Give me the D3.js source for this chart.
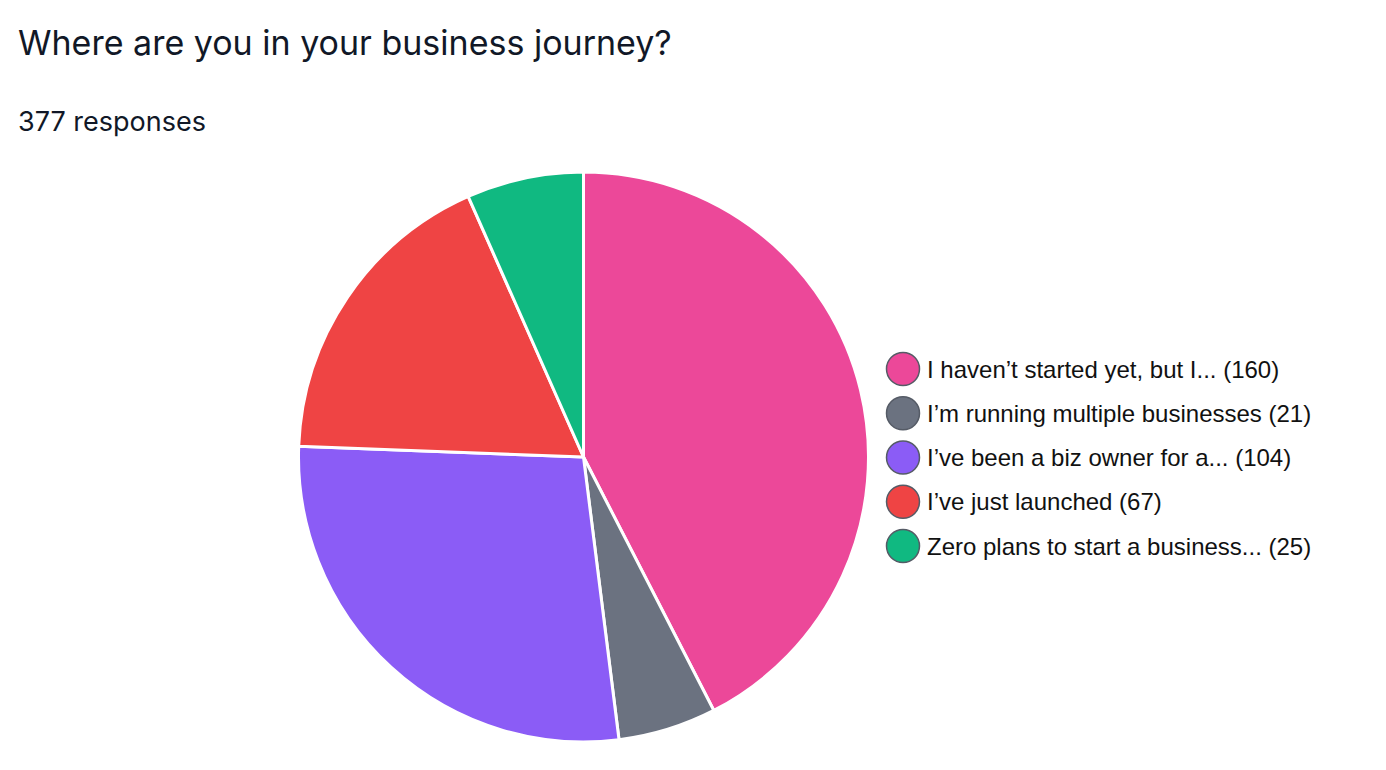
<!DOCTYPE html>
<html><head><meta charset="utf-8">
<script src="https://cdn.jsdelivr.net/npm/d3@7/dist/d3.min.js"></script>
<style>body{margin:0;background:#fff;} svg{display:block;}</style>
</head><body>
<svg id="chart" width="1386" height="770"></svg>
<script>
const title = "Where are you in your business journey?";
const subtitle = "377 responses";
const categories = [
  "I haven’t started yet, but I...",
  "I’m running multiple businesses",
  "I’ve been a biz owner for a...",
  "I’ve just launched",
  "Zero plans to start a business..."
];
const values = [160, 21, 104, 67, 25];
const colors = ["#ec4899", "#6b7280", "#8b5cf6", "#ef4444", "#10b981"];

const svg = d3.select("#chart");
svg.append("text").attr("x", 18).attr("y", 55)
  .attr("font-family", "Inter, 'Noto Sans', sans-serif").attr("font-size", 34)
  .attr("fill", "#111827").text(title);
svg.append("text").attr("x", 18).attr("y", 131)
  .attr("font-family", "Inter, 'Noto Sans', sans-serif").attr("font-size", 27)
  .attr("fill", "#111827").text(subtitle);

const data = categories.map((c, i) => ({cat: c, value: values[i], color: colors[i]}));
const pie = d3.pie().value(d => d.value).sort(null);
const arc = d3.arc().innerRadius(0).outerRadius(285);
const g = svg.append("g").attr("transform", "translate(583.5,457)");
g.selectAll("path").data(pie(data)).join("path")
  .attr("d", arc).attr("fill", d => d.data.color)
  .attr("stroke", "#fff").attr("stroke-width", 3).attr("stroke-linejoin", "round");

const color = d3.scaleOrdinal().domain(categories).range(colors);
const y = d3.scalePoint().domain(categories).range([369, 546]);
const leg = svg.append("g");
const rows = leg.selectAll("g").data(data).join("g")
  .attr("transform", d => `translate(903,${y(d.cat)})`);
rows.append("circle").attr("r", 16.5).attr("fill", d => color(d.cat))
  .attr("stroke", "#555b66").attr("stroke-width", 1.5);
rows.append("text").attr("x", 24).attr("y", 8.5)
  .attr("font-family", "'Liberation Sans', Arial, sans-serif").attr("font-size", 24)
  .attr("fill", "#111").text(d => `${d.cat} (${d.value})`);
</script>
</body></html>
